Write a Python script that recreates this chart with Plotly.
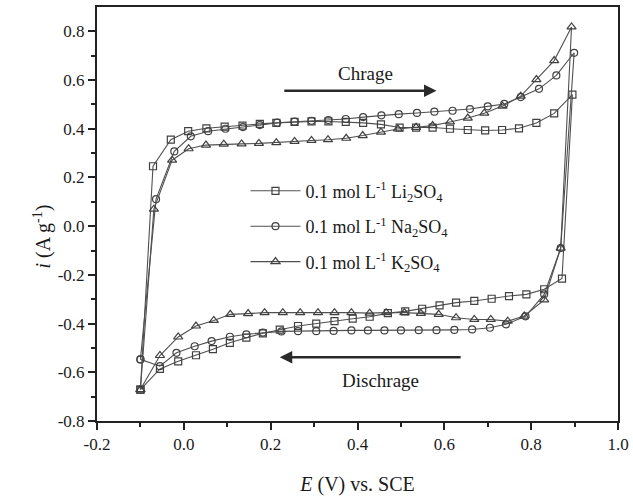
import plotly.graph_objects as go

# Li2SO4 (squares): charge then discharge
li_x = [-0.1, -0.071, -0.030, 0.010, 0.052, 0.094, 0.135, 0.175, 0.213, 0.255, 0.294, 0.333, 0.373,
        0.413, 0.454, 0.497, 0.535, 0.573, 0.613, 0.654, 0.694, 0.733, 0.772, 0.812, 0.853, 0.895,
        0.871, 0.830, 0.789, 0.749, 0.709, 0.669, 0.627, 0.589, 0.549, 0.510, 0.470, 0.428, 0.389,
        0.347, 0.305, 0.263, 0.221, 0.182, 0.144, 0.106, 0.067, 0.028, -0.013, -0.055, -0.1]
li_y = [-0.671, 0.246, 0.355, 0.390, 0.402, 0.409, 0.413, 0.420, 0.424, 0.428, 0.430, 0.430, 0.428,
        0.424, 0.418, 0.405, 0.405, 0.405, 0.400, 0.395, 0.393, 0.395, 0.402, 0.424, 0.463, 0.540,
        -0.215, -0.259, -0.280, -0.287, -0.298, -0.307, -0.314, -0.325, -0.339, -0.350, -0.357, -0.372, -0.380,
        -0.390, -0.400, -0.410, -0.425, -0.440, -0.458, -0.479, -0.505, -0.530, -0.555, -0.586, -0.671]

# Na2SO4 (circles)
na_x = [-0.1, -0.064, -0.022, 0.016, 0.056, 0.096, 0.136, 0.175, 0.215, 0.255, 0.294, 0.333, 0.373,
        0.413, 0.455, 0.495, 0.537, 0.577, 0.619, 0.659, 0.700, 0.738, 0.776, 0.818, 0.858, 0.899,
        0.868, 0.830, 0.787, 0.742, 0.705, 0.664, 0.623, 0.582, 0.541, 0.500, 0.462, 0.424, 0.386,
        0.345, 0.305, 0.263, 0.225, 0.182, 0.144, 0.106, 0.064, 0.025, -0.017, -0.055, -0.1]
na_y = [-0.547, 0.111, 0.307, 0.369, 0.390, 0.400, 0.407, 0.415, 0.425, 0.429, 0.433, 0.436, 0.440,
        0.448, 0.455, 0.460, 0.465, 0.470, 0.474, 0.481, 0.492, 0.502, 0.530, 0.564, 0.619, 0.712,
        -0.090, -0.280, -0.370, -0.403, -0.417, -0.424, -0.426, -0.427, -0.427, -0.428, -0.428, -0.428, -0.428,
        -0.430, -0.431, -0.431, -0.432, -0.437, -0.444, -0.454, -0.472, -0.493, -0.520, -0.575, -0.547]

# K2SO4 (triangles)
k_x = [-0.1, -0.069, -0.027, 0.011, 0.051, 0.092, 0.133, 0.173, 0.213, 0.255, 0.294, 0.332, 0.374,
       0.412, 0.454, 0.493, 0.535, 0.573, 0.613, 0.654, 0.692, 0.734, 0.776, 0.812, 0.853, 0.893,
       0.868, 0.830, 0.784, 0.746, 0.707, 0.669, 0.627, 0.587, 0.546, 0.508, 0.466, 0.428, 0.386,
       0.347, 0.309, 0.268, 0.228, 0.186, 0.148, 0.107, 0.069, 0.028, -0.013, -0.055, -0.1]
k_y = [-0.671, 0.070, 0.271, 0.318, 0.333, 0.337, 0.338, 0.340, 0.343, 0.348, 0.352, 0.355, 0.361,
       0.372, 0.386, 0.399, 0.406, 0.413, 0.428, 0.444, 0.464, 0.493, 0.534, 0.602, 0.680, 0.818,
       -0.090, -0.303, -0.369, -0.390, -0.383, -0.383, -0.376, -0.362, -0.358, -0.355, -0.355, -0.357, -0.355,
       -0.355, -0.355, -0.355, -0.355, -0.355, -0.359, -0.362, -0.387, -0.410, -0.455, -0.531, -0.671]

x_ticks = [-0.2, 0.0, 0.2, 0.4, 0.6, 0.8, 1.0]
x_labels = ["-0.2", "0.0", "0.2", "0.4", "0.6", "0.8", "1.0"]
y_ticks = [-0.8, -0.6, -0.4, -0.2, 0.0, 0.2, 0.4, 0.6, 0.8]
y_labels = ["-0.8", "-0.6", "-0.4", "-0.2", "0.0", "0.2", "0.4", "0.6", "0.8"]

names = ["0.1 mol L<sup>-1</sup> Li<sub>2</sub>SO<sub>4</sub>",
         "0.1 mol L<sup>-1</sup> Na<sub>2</sub>SO<sub>4</sub>",
         "0.1 mol L<sup>-1</sup> K<sub>2</sub>SO<sub>4</sub>"]
symbols = ["square-open", "circle-open", "triangle-up-open"]
series = [(li_x, li_y), (na_x, na_y), (k_x, k_y)]

FONT = "Liberation Serif"
TXT = "#1a1a1a"
fig = go.Figure()
for i, ((xs, ys), nm, sym) in enumerate(zip(series, names, symbols)):
    fig.add_trace(go.Scatter(
        x=xs, y=ys, mode="lines+markers", name=nm, legendgroup=str(i),
        line=dict(color="#505050", width=1.1),
        marker=dict(symbol=sym, size=7 if sym != "triangle-up-open" else 8,
                    color="#404040", line=dict(color="#404040", width=1.2)),
    ))

fig.add_annotation(x=0.582, y=0.556, ax=0.228, ay=0.556, xref="x", yref="y", axref="x", ayref="y",
                   showarrow=True, arrowhead=2, arrowsize=1, arrowwidth=2.5, arrowcolor="#2a2a2a", text="")
fig.add_annotation(x=0.221, y=-0.538, ax=0.641, ay=-0.538, xref="x", yref="y", axref="x", ayref="y",
                   showarrow=True, arrowhead=2, arrowsize=1, arrowwidth=2.5, arrowcolor="#2a2a2a", text="")
fig.add_annotation(x=0.418, y=0.626, xref="x", yref="y", text="Chrage", showarrow=False,
                   font=dict(family=FONT, size=19, color=TXT))
fig.add_annotation(x=0.453, y=-0.634, xref="x", yref="y", text="Dischrage", showarrow=False,
                   font=dict(family=FONT, size=19, color=TXT))
# y-axis title (placed slightly below the plot centre, as in the reference)
fig.add_annotation(x=-0.132, y=0.445, xref="paper", yref="paper", textangle=-90, showarrow=False,
                   text="<i>i</i> (A g<sup>-1</sup>)", font=dict(family=FONT, size=20, color=TXT))

axis_common = dict(showline=True, linecolor="#222", linewidth=2, mirror=True, ticks="outside",
                   ticklen=7, tickwidth=2, tickcolor="#222", showgrid=False, zeroline=False,
                   automargin=False,
                   tickfont=dict(family=FONT, size=17, color=TXT),
                   minor=dict(ticks="outside", ticklen=4, tickwidth=1.5, tickcolor="#222"))

fig.update_layout(
    width=633, height=497,
    margin=dict(l=97, r=15, t=7, b=76),
    plot_bgcolor="white", paper_bgcolor="white",
    font=dict(family=FONT, size=18, color=TXT),
    xaxis=dict(range=[-0.2, 1.0], tickvals=x_ticks, ticktext=x_labels,
               title=dict(text="<i>E</i> (V) vs. SCE", font=dict(family=FONT, size=20, color=TXT), standoff=24),
               **axis_common),
    yaxis=dict(range=[-0.8, 0.9], tickvals=y_ticks, ticktext=y_labels, **axis_common),
    legend=dict(x=0.285, y=0.60, xanchor="left", yanchor="top", bgcolor="rgba(0,0,0,0)",
                font=dict(family=FONT, size=18, color=TXT), tracegroupgap=9, traceorder="grouped",
                itemwidth=50),
    showlegend=True,
)
fig.update_xaxes(minor=dict(tickvals=[-0.1, 0.1, 0.3, 0.5, 0.7, 0.9]))
fig.update_yaxes(minor=dict(tickvals=[-0.7, -0.5, -0.3, -0.1, 0.1, 0.3, 0.5, 0.7]))

fig.write_html("out.html")
